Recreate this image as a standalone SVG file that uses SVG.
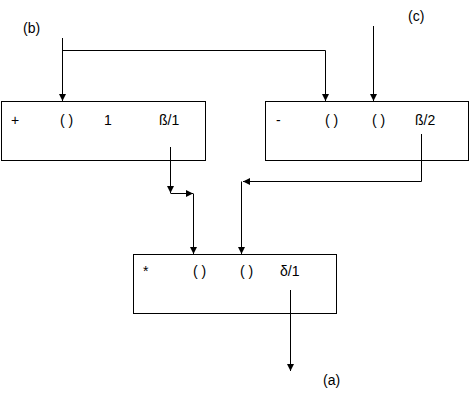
<svg xmlns="http://www.w3.org/2000/svg" width="474" height="400" viewBox="0 0 474 400">
<defs>
<style>
.box{fill:#fff;stroke:#000;stroke-width:1}
.ln{fill:none;stroke:#000;stroke-width:1}
.arr{marker-end:url(#ah)}
text{font-family:"Liberation Sans",Arial,sans-serif;font-size:14px;fill:#000}
</style>
<marker id="ah" markerUnits="userSpaceOnUse" markerWidth="8" markerHeight="7" refX="7" refY="3.5" orient="auto">
<path d="M0,0 L7,3.5 L0,7 z" fill="#000"/>
</marker>
</defs>
<rect width="474" height="400" fill="#fff"/>
<g id="labels">
<text x="23" y="33">(b)</text>
<text x="408" y="21">(c)</text>
<text x="323" y="385">(a)</text>
</g>
<g id="node-plus">
<rect class="box" x="1.5" y="101.5" width="204" height="59"/>
<text x="11" y="125">+</text>
<text x="60" y="125">( )</text>
<text x="104" y="125">1</text>
<text x="159" y="125">ß/1</text>
</g>
<g id="node-minus">
<rect class="box" x="265.5" y="101.5" width="203" height="59"/>
<text x="276" y="125">-</text>
<text x="325" y="125">( )</text>
<text x="372" y="125">( )</text>
<text x="415" y="125">ß/2</text>
</g>
<g id="node-times">
<rect class="box" x="133.5" y="254.5" width="203" height="59"/>
<text x="143" y="276">*</text>
<text x="193" y="276">( )</text>
<text x="240" y="276">( )</text>
<text x="280" y="276">δ/1</text>
</g>
<g id="connectors">
<path class="ln arr" d="M62.5,38 V101"/>
<path class="ln arr" d="M62.5,50.5 H325.5 V101"/>
<path class="ln arr" d="M373.5,26 V101"/>
<path class="ln arr" d="M170.5,147 V193"/>
<path class="ln arr" d="M170.5,193.5 H193"/>
<path class="ln arr" d="M193.5,193.5 V254"/>
<path class="ln" d="M421.5,134 V181.5"/>
<path class="ln arr" d="M421.5,181.5 H243"/>
<path class="ln arr" d="M241.5,181.5 V254"/>
<path class="ln arr" d="M290.5,290 V371"/>
</g>
</svg>
